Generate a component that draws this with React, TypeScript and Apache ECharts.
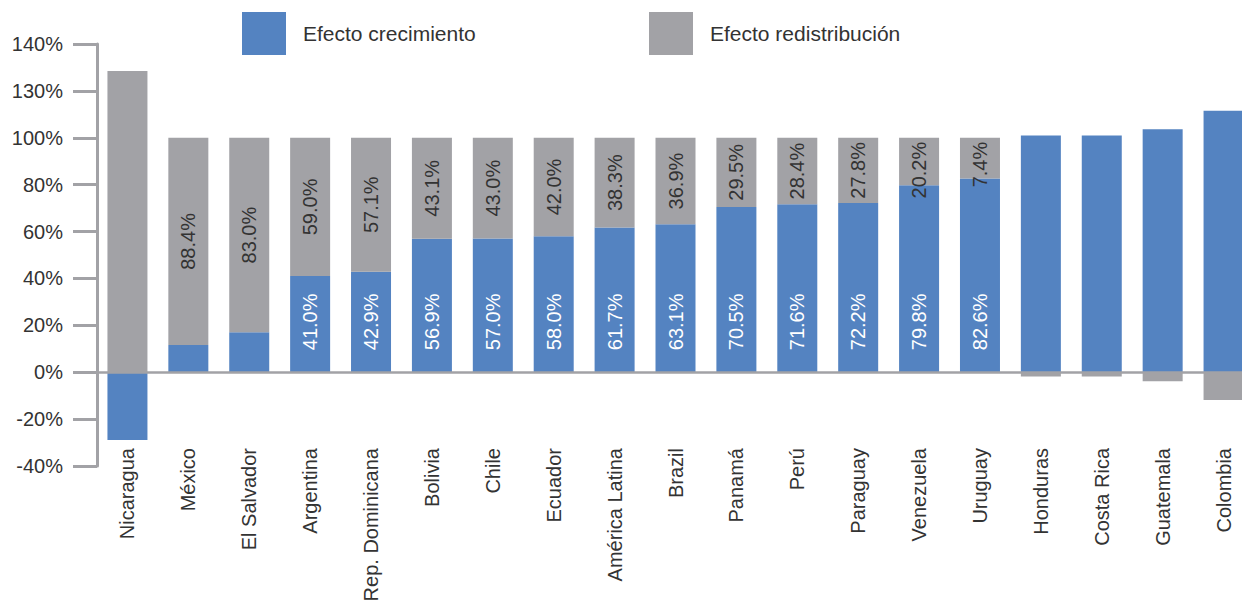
import React, { useEffect, useRef } from "react";
import * as echarts from "echarts";

const categories = [
  "Nicaragua", "México", "El Salvador", "Argentina", "Rep. Dominicana", "Bolivia", "Chile",
  "Ecuador", "América Latina", "Brazil", "Panamá", "Perú", "Paraguay", "Venezuela", "Uruguay",
  "Honduras", "Costa Rica", "Guatemala", "Colombia",
];
const growth = [-28.9, 11.6, 17.0, 41.0, 42.9, 56.9, 57.0, 58.0, 61.7, 63.1, 70.5, 71.6, 72.2, 79.8, 82.6, 101.0, 101.0, 103.6, 111.5];
const redistribution = [128.5, 88.4, 83.0, 59.0, 57.1, 43.1, 43.0, 42.0, 38.3, 36.9, 29.5, 28.4, 27.8, 20.2, 17.4, -1.8, -1.8, -3.9, -11.8];
const growthLabels = ["", "", "", "41.0%", "42.9%", "56.9%", "57.0%", "58.0%", "61.7%", "63.1%", "70.5%", "71.6%", "72.2%", "79.8%", "82.6%", "", "", "", ""];
const redistLabels = ["", "88.4%", "83.0%", "59.0%", "57.1%", "43.1%", "43.0%", "42.0%", "38.3%", "36.9%", "29.5%", "28.4%", "27.8%", "20.2%", "7.4%", "", "", "", ""];
const yTickLabels = ["-40%", "-20%", "0%", "20%", "40%", "60%", "80%", "100%", "130%", "140%"];
const seriesNames = ["Efecto crecimiento", "Efecto redistribución"];

const BLUE = "#5483c1";
const GRAY = "#a2a2a6";
const TEXT = "#333333";
const FONT = "'Liberation Sans', Arial, Helvetica, sans-serif";

export default function App() {
  const ref = useRef<HTMLDivElement>(null);
  useEffect(() => {
    if (!ref.current) return;
    const chart = echarts.init(ref.current, undefined, { renderer: "svg" });
    const growthData = growth.map((v, i) => ({
      value: v,
      label: {
        show: growthLabels[i] !== "",
        formatter: growthLabels[i],
      },
    }));
    const redistData = redistribution.map((v, i) => {
      const small = v < 25;
      return {
        value: v,
        label: {
          show: redistLabels[i] !== "",
          formatter: redistLabels[i],
          position: small ? "insideTop" : "inside",
          align: small ? "right" : "center",
          distance: 4,
        },
      };
    });
    const legendBase = {
      top: 12,
      padding: 0,
      itemWidth: 44,
      itemHeight: 43,
      icon: "rect",
      textStyle: { fontSize: 21, color: TEXT, fontFamily: FONT, padding: [0, 0, 6, 12] },
      selectedMode: false,
    };
    chart.setOption({
      animation: false,
      textStyle: { fontFamily: FONT },
      legend: [
        { ...legendBase, data: [seriesNames[0]], left: 242 },
        { ...legendBase, data: [seriesNames[1]], left: 649 },
      ],
      grid: { left: 97, width: 1157, top: 44, bottom: 140, containLabel: false, outerBoundsMode: "none" },
      xAxis: {
        type: "category",
        data: categories,
        position: "bottom",
        axisLine: { show: false, onZero: false },
        axisTick: { show: false },
        axisLabel: {
          rotate: 90,
          margin: -18,
          fontSize: 20,
          color: TEXT,
          fontFamily: FONT,
          interval: 0,
        },
        splitLine: { show: false },
      },
      yAxis: {
        type: "value",
        min: -40,
        max: 140,
        interval: 20,
        axisLine: { show: true, lineStyle: { color: GRAY, width: 3 } },
        axisTick: { show: true, length: 24, inside: false, lineStyle: { color: GRAY, width: 3 } },
        axisLabel: {
          margin: 34,
          fontSize: 20,
          color: TEXT,
          fontFamily: FONT,
          formatter: (v: number) => yTickLabels[Math.round((v + 40) / 20)] ?? "",
        },
        splitLine: { show: false },
      },
      series: [
        {
          name: seriesNames[0],
          type: "bar",
          stack: "total",
          barWidth: 40,
          itemStyle: { color: BLUE },
          data: growthData,
          label: {
            position: "insideBottom",
            rotate: 90,
            align: "left",
            verticalAlign: "middle",
            distance: 22,
            color: "#ffffff",
            fontSize: 20,
            fontFamily: FONT,
          },
        },
        {
          name: seriesNames[1],
          type: "bar",
          stack: "total",
          barWidth: 40,
          itemStyle: { color: GRAY },
          data: redistData,
          label: {
            rotate: 90,
            verticalAlign: "middle",
            color: TEXT,
            fontSize: 20,
            fontFamily: FONT,
          },
          markLine: {
            silent: true,
            symbol: "none",
            label: { show: false },
            lineStyle: { color: GRAY, width: 2.5, type: "solid" },
            data: [{ yAxis: 0 }],
            z: 10,
          },
        },
      ],
    });
    return () => chart.dispose();
  }, []);
  return (
    <div
      ref={ref}
      style={{ position: "absolute", left: 0, top: 0, width: 1242, height: 606, background: "#fff" }}
    />
  );
}
